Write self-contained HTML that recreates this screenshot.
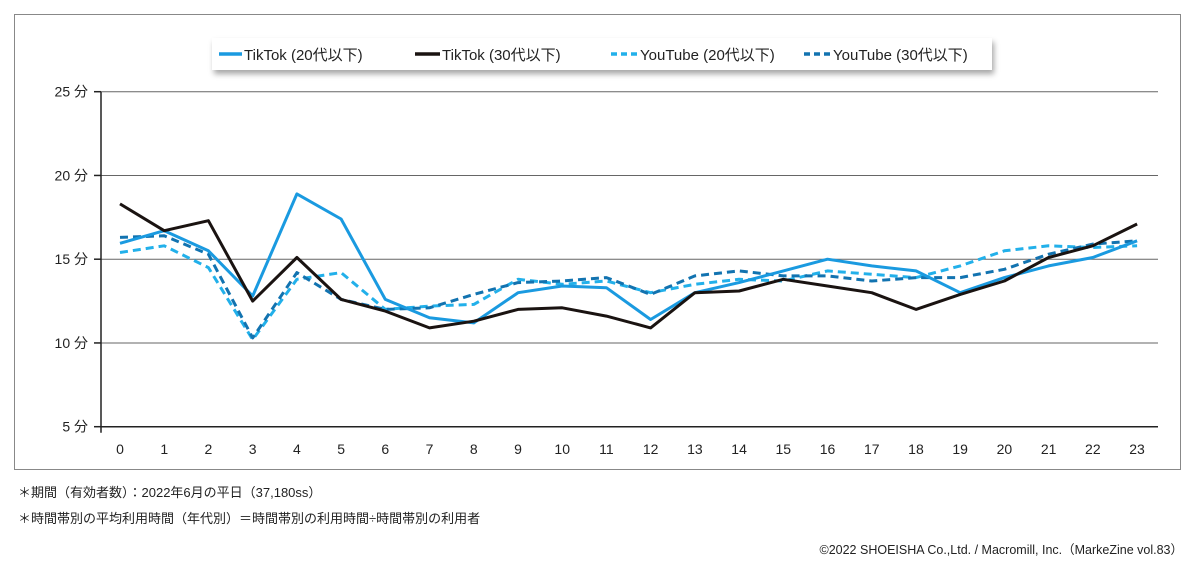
<!DOCTYPE html>
<html><head><meta charset="utf-8">
<style>
html,body{margin:0;padding:0;background:#fff;width:1200px;height:574px;overflow:hidden}
svg{display:block}
text{font-family:"Liberation Sans","Noto Sans CJK JP",sans-serif}
</style></head>
<body>
<svg id="s" width="1200" height="574" viewBox="0 0 1200 574" xmlns="http://www.w3.org/2000/svg">
<defs>
<filter id="sh" x="-5%" y="-50%" width="110%" height="200%"><feDropShadow dx="2" dy="4" stdDeviation="3" flood-color="#000" flood-opacity="0.35"/></filter>
</defs>
<rect x="14.5" y="14.5" width="1166" height="455" fill="#fff" stroke="#888" stroke-width="1"/>
<g id="grid"></g>
<g id="series"></g>
<rect x="212" y="38" width="780" height="32" fill="#fff" filter="url(#sh)"/>
<g font-size="15" fill="#222">
<line x1="219" y1="54" x2="242" y2="54" stroke="#1a9ae0" stroke-width="3.5"/>
<text x="244" y="60">TikTok (20代以下)</text>
<line x1="415" y1="54" x2="440" y2="54" stroke="#1a1311" stroke-width="3.5"/>
<text x="442" y="60">TikTok (30代以下)</text>
<line x1="611" y1="54" x2="638" y2="54" stroke="#22b0ea" stroke-width="3.5" stroke-dasharray="6,4"/>
<text x="640" y="60">YouTube (20代以下)</text>
<line x1="804" y1="54" x2="831" y2="54" stroke="#1273b0" stroke-width="3.5" stroke-dasharray="6,4"/>
<text x="833" y="60">YouTube (30代以下)</text>
</g>
<g font-size="13" fill="#222">
<text x="18" y="497">＊期間（有効者数）：2022年6月の平日（37,180ss）</text>
<text x="18" y="523">＊時間帯別の平均利用時間（年代別）＝時間帯別の利用時間÷時間帯別の利用者</text>
<text x="1183" y="554" text-anchor="end" font-size="12.5">©2022 SHOEISHA Co.,Ltd. / Macromill, Inc.（MarkeZine vol.83）</text>
</g>
</svg>
<script>
var ns="http://www.w3.org/2000/svg";
function el(p,t,a){var e=document.createElementNS(ns,t);for(var k in a)e.setAttribute(k,a[k]);p.appendChild(e);return e;}
var g=document.getElementById("grid"),sg=document.getElementById("series");
function Y(v){return 426.7-(v-5)*16.75;}
function X(i){return 120+i*44.22;}
[25,20,15,10].forEach(function(v){el(g,"line",{x1:101,x2:1158,y1:Y(v),y2:Y(v),stroke:"#666","stroke-width":1});});
[25,20,15,10,5].forEach(function(v){el(g,"line",{x1:94,x2:101,y1:Y(v),y2:Y(v),stroke:"#222","stroke-width":1.5});
var t=el(g,"text",{x:88,y:Y(v)+5,"text-anchor":"end","font-size":"14",fill:"#222"});t.textContent=v+" 分";});
el(g,"line",{x1:101,x2:101,y1:Y(25),y2:Y(5)+6,stroke:"#222","stroke-width":1.5});
el(g,"line",{x1:101,x2:1158,y1:Y(5),y2:Y(5),stroke:"#222","stroke-width":1.5});
for(var i=0;i<24;i++){var t=el(g,"text",{x:X(i),y:454,"text-anchor":"middle","font-size":"14",fill:"#222"});t.textContent=i;}
var D=[
["#1a9ae0",null,[15.95,16.7,15.5,12.8,18.9,17.4,12.6,11.5,11.2,13.0,13.4,13.3,11.4,13.0,13.6,14.3,15.0,14.6,14.3,13.0,13.9,14.6,15.1,16.1]],
["#1a1311",null,[18.3,16.7,17.3,12.5,15.1,12.6,11.9,10.9,11.3,12.0,12.1,11.6,10.9,13.0,13.1,13.8,13.4,13.0,12.0,12.9,13.7,15.1,15.8,17.1]],
["#22b0ea","8,5",[15.4,15.8,14.5,10.2,13.8,14.2,12.0,12.2,12.3,13.8,13.5,13.7,13.0,13.5,13.8,13.7,14.3,14.1,13.9,14.6,15.5,15.8,15.7,15.8]],
["#1273b0","8,5",[16.3,16.4,15.3,10.3,14.2,12.6,12.0,12.1,12.9,13.6,13.7,13.9,12.9,14.0,14.3,14.0,14.0,13.7,13.9,13.9,14.4,15.3,15.9,16.1]]];
[2,3,0,1].forEach(function(k){var d=D[k];var pts=d[2].map(function(v,i){return X(i).toFixed(1)+","+Y(v).toFixed(1);}).join(" ");
var a={points:pts,fill:"none",stroke:d[0],"stroke-width":3,"stroke-linejoin":"round"};if(d[1])a["stroke-dasharray"]=d[1];el(sg,"polyline",a);});
</script>
</body></html>
